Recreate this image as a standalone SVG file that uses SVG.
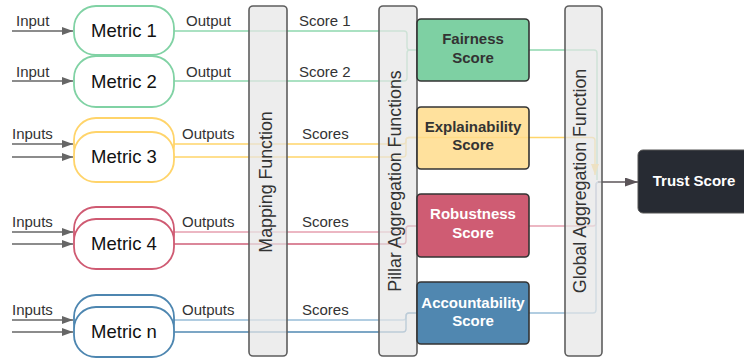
<svg xmlns="http://www.w3.org/2000/svg" width="744" height="361" viewBox="0 0 744 361">
<style>
text{font-family:"Liberation Sans",Arial,sans-serif}
.lbl{font-size:15px;fill:#333}
.mt{font-size:18.5px;fill:#111;text-anchor:middle}
.bt{font-size:17.8px;fill:#333;text-anchor:middle}
.st{font-size:15px;font-weight:bold;text-anchor:middle}
.in{stroke:#666;stroke-width:1.4;fill:none}
.bar{fill:#e6e6e6;fill-opacity:0.72;stroke:#5e5e5e;stroke-width:1.6}
.sb{stroke:#333;stroke-width:1.6}
.c{fill:none;stroke-width:1.4}
.g{stroke:#8fd8ae}.y{stroke:#ffd56a}.r1{stroke:#e6a0b0}.r2{stroke:#d0607a}.b1{stroke:#98bdd8}.b2{stroke:#5289b3}
.mg{fill:#fff;stroke:#80d2a4;stroke-width:1.8}
.my{fill:#fff;stroke:#ffd46a;stroke-width:1.8}
.mr{fill:#fff;stroke:#cf5a72;stroke-width:1.8}
.mb{fill:#fff;stroke:#4d86b0;stroke-width:1.8}
</style>
<defs>
<marker id="ah" markerUnits="userSpaceOnUse" markerWidth="12" markerHeight="8" refX="11" refY="4" orient="auto"><path d="M0,0 L11,4 L0,8 z" fill="#666"/></marker>
<marker id="ahy" markerUnits="userSpaceOnUse" markerWidth="12" markerHeight="8" refX="11" refY="4" orient="auto"><path d="M0,0 L11,4 L0,8 z" fill="#ffd56a"/></marker>
<marker id="ahd" markerUnits="userSpaceOnUse" markerWidth="14" markerHeight="9" refX="13" refY="4.5" orient="auto"><path d="M0,0 L13,4.5 L0,9 z" fill="#5b5458"/></marker>
</defs>

<g id="connectors">
<!-- inputs -->
<line class="in" x1="12" y1="31" x2="73" y2="31" marker-end="url(#ah)"/>
<line class="in" x1="12" y1="81" x2="73" y2="81" marker-end="url(#ah)"/>
<line class="in" x1="12" y1="144" x2="73" y2="144" marker-end="url(#ah)"/>
<line class="in" x1="12" y1="157" x2="73" y2="157" marker-end="url(#ah)"/>
<line class="in" x1="12" y1="232" x2="73" y2="232" marker-end="url(#ah)"/>
<line class="in" x1="12" y1="244" x2="73" y2="244" marker-end="url(#ah)"/>
<line class="in" x1="12" y1="320" x2="73" y2="320" marker-end="url(#ah)"/>
<line class="in" x1="12" y1="332" x2="73" y2="332" marker-end="url(#ah)"/>
<!-- metrics to pillars -->
<path class="c g" d="M174,31 H404 q3,0 3,3 V47 q0,3 3,3 H417"/>
<path class="c g" d="M174,81 H404 q3,0 3,-3 V53 q0,-3 3,-3 H417"/>
<path class="c y" d="M174,144 H403 q3,0 3,-3 V140.5 q0,-3 3,-3 H417"/>
<path class="c y" d="M174,157 H403 q3,0 3,-3 V140.5 q0,-3 3,-3 H417"/>
<path class="c r1" d="M174,232 H403 q3,0 3,-3 V229 q0,-3 3,-3 H417"/>
<path class="c r2" d="M174,244 H403 q3,0 3,-3 V229 q0,-3 3,-3 H417"/>
<path class="c b1" d="M174,320 H403 q3,0 3,-3 V316 q0,-3 3,-3 H417"/>
<path class="c b2" d="M174,332 H403 q3,0 3,-3 V316 q0,-3 3,-3 H417"/>
<!-- pillars to global -->
<path class="c g" d="M529,50 H594 q3,0 3,3 V180"/>
<path class="c y" d="M417,137.5 H592 q3,0 3,3 V175" marker-end="url(#ahy)"/>
<path class="c r1" d="M529,226 H593 q3,0 3,-3 V185 q0,-3 3,-3 H601"/>
<path class="c b1" d="M529,313 H593 q3,0 3,-3 V185 q0,-3 3,-3 H601"/>
<!-- global to trust -->
<line x1="598" y1="182" x2="638" y2="182" stroke="#5b5458" stroke-width="1.6" marker-end="url(#ahd)"/>
</g>

<g id="mapping-function">
<rect class="bar" x="249" y="6" width="38" height="350" rx="4"/>
<text class="bt" transform="translate(272,182) rotate(-90)">Mapping Function</text>
</g>
<g id="pillar-aggregation">
<rect class="bar" x="379" y="6" width="38" height="350" rx="4"/>
<text class="bt" transform="translate(401,181) rotate(-90)">Pillar Aggregation Functions</text>
</g>
<g id="global-aggregation">
<rect class="bar" x="565" y="6" width="37" height="350" rx="4"/>
<text class="bt" transform="translate(586,181) rotate(-90)">Global Aggregation Function</text>
</g>

<g id="metric-1">
<rect class="mg" x="74" y="6" width="100" height="49" rx="22"/>
<text class="mt" x="124" y="37">Metric 1</text>
<text class="lbl" x="16" y="26">Input</text>
<text class="lbl" x="186" y="26">Output</text>
<text class="lbl" x="299" y="26">Score 1</text>
</g>
<g id="metric-2">
<rect class="mg" x="74" y="56" width="100" height="51" rx="22"/>
<text class="mt" x="124" y="88">Metric 2</text>
<text class="lbl" x="16" y="77">Input</text>
<text class="lbl" x="186" y="77">Output</text>
<text class="lbl" x="299" y="77">Score 2</text>
</g>
<g id="metric-3">
<rect class="my" x="74" y="118" width="100" height="50" rx="22"/>
<rect class="my" x="74" y="132" width="100" height="50" rx="22"/>
<text class="mt" x="124" y="163">Metric 3</text>
<text class="lbl" x="12" y="139">Inputs</text>
<text class="lbl" x="182" y="139">Outputs</text>
<text class="lbl" x="302" y="139">Scores</text>
</g>
<g id="metric-4">
<rect class="mr" x="74" y="207" width="100" height="50" rx="22"/>
<rect class="mr" x="74" y="219" width="100" height="50" rx="22"/>
<text class="mt" x="124" y="250">Metric 4</text>
<text class="lbl" x="12" y="227">Inputs</text>
<text class="lbl" x="182" y="227">Outputs</text>
<text class="lbl" x="302" y="227">Scores</text>
</g>
<g id="metric-n">
<rect class="mb" x="74" y="295" width="100" height="50" rx="22"/>
<rect class="mb" x="74" y="307" width="100" height="50" rx="22"/>
<text class="mt" x="124" y="338">Metric n</text>
<text class="lbl" x="12" y="315">Inputs</text>
<text class="lbl" x="182" y="315">Outputs</text>
<text class="lbl" x="302" y="315">Scores</text>
</g>

<g id="fairness-score">
<rect class="sb" x="417" y="19" width="112" height="62" rx="4" fill="#7ed0a3"/>
<text class="st" x="473" y="44" fill="#333">Fairness</text>
<text class="st" x="473" y="63" fill="#333">Score</text>
</g>
<g id="explainability-score">
<rect class="sb" x="417" y="107" width="112" height="62" rx="4" fill="#ffdc8c" fill-opacity="0.85"/>
<text class="st" x="473" y="132" fill="#333">Explainability</text>
<text class="st" x="473" y="150" fill="#333">Score</text>
</g>
<g id="robustness-score">
<rect class="sb" x="417" y="194" width="112" height="63" rx="4" fill="#cf5c73"/>
<text class="st" x="473" y="219" fill="#fff">Robustness</text>
<text class="st" x="473" y="238" fill="#fff">Score</text>
</g>
<g id="accountability-score">
<rect class="sb" x="417" y="282" width="112" height="62" rx="4" fill="#5087b0"/>
<text class="st" x="473" y="308" fill="#fff">Accountability</text>
<text class="st" x="473" y="326" fill="#fff">Score</text>
</g>
<g id="trust-score">
<rect x="638" y="150" width="112" height="63" rx="5" fill="#272b33" stroke="#555" stroke-width="1"/>
<text class="st" x="694" y="186" fill="#fff">Trust Score</text>
</g>
</svg>
